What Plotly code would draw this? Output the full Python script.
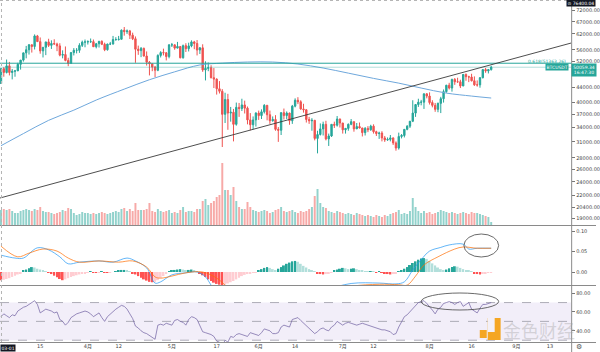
import pandas as pd
import plotly.graph_objects as go

# ---------------- data (prices in thousands USDT) ----------------
dates = pd.date_range("2021-03-01", "2021-08-23", freq="D")

opens = [45.1, 49.6, 48.4, 50.5, 48.4, 48.8, 48.9, 51.0, 52.4, 54.9,
         56.0, 57.8, 57.2, 61.2, 59.0, 55.6, 56.9, 58.9, 57.6, 58.3,
         58.1, 57.4, 54.1, 54.3, 52.3, 51.3, 55.0, 55.8, 55.8, 57.6,
         58.8, 58.9, 59.0, 59.0, 57.1, 58.2, 59.1, 58.0, 56.0, 58.1,
         58.1, 59.8, 59.8, 59.9, 63.5, 62.9, 63.2, 61.5, 60.1, 56.2,
         55.7, 56.5, 53.8, 51.7, 51.2, 50.1, 49.1, 54.0, 55.0, 54.9,
         53.6, 57.8, 57.8, 56.6, 57.2, 53.2, 57.5, 56.4, 57.4, 58.9,
         58.3, 55.9, 56.7, 49.2, 49.7, 49.9, 46.8, 46.4, 43.6, 42.9,
         37.0, 40.7, 37.3, 37.5, 34.7, 38.7, 38.4, 39.3, 38.5, 35.7,
         34.6, 35.7, 37.3, 36.7, 37.6, 39.2, 36.9, 35.5, 35.8, 33.6,
         33.4, 37.4, 36.7, 37.3, 35.5, 39.0, 40.5, 40.1, 38.3, 38.1,
         35.8, 35.5, 35.6, 31.7, 32.5, 33.7, 34.7, 31.6, 32.2, 34.7,
         34.5, 35.9, 35.0, 33.5, 33.8, 34.7, 35.3, 33.7, 34.2, 33.9,
         32.9, 33.8, 33.5, 34.3, 33.1, 32.7, 32.8, 31.8, 31.4, 31.5,
         31.8, 30.8, 29.8, 32.1, 32.3, 33.6, 34.3, 35.4, 37.3, 39.4,
         40.0, 40.0, 42.2, 41.6, 39.9, 39.2, 38.2, 39.7, 40.9, 42.8,
         44.6, 43.8, 46.3, 45.6, 45.6, 44.4, 47.8, 47.1, 47.0, 45.9,
         44.7, 44.7, 46.8, 49.3, 48.9, 49.3]
highs = [49.8, 50.1, 52.6, 51.8, 49.5, 49.2, 51.5, 52.4, 54.9, 57.4,
         58.1, 58.0, 61.8, 61.6, 60.6, 56.9, 58.9, 60.1, 59.5, 59.9,
         58.6, 58.4, 55.8, 57.2, 53.2, 55.1, 56.6, 56.6, 58.4, 59.4,
         59.8, 59.5, 60.2, 59.8, 58.5, 59.3, 59.5, 58.6, 58.2, 58.9,
         61.2, 60.7, 61.2, 63.8, 64.8, 63.8, 63.6, 62.5, 61.0, 57.5,
         57.0, 56.8, 55.4, 52.1, 51.2, 50.5, 54.4, 55.5, 56.4, 55.2,
         58.0, 58.5, 57.9, 58.9, 57.2, 57.9, 58.4, 58.6, 59.5, 59.3,
         59.6, 57.0, 58.0, 52.0, 51.6, 50.7, 49.8, 46.6, 45.8, 43.5,
         42.5, 42.2, 38.8, 38.3, 39.9, 39.8, 40.9, 40.4, 38.9, 37.3,
         36.5, 37.5, 37.9, 38.2, 39.5, 39.3, 37.9, 36.5, 36.8, 34.1,
         37.5, 38.4, 37.7, 37.4, 39.3, 41.0, 41.3, 40.5, 39.6, 38.2,
         36.4, 36.1, 35.7, 33.3, 34.9, 35.3, 35.5, 32.7, 34.7, 35.3,
         36.6, 36.0, 35.0, 33.9, 34.9, 35.9, 35.3, 35.0, 35.1, 33.9,
         34.1, 34.3, 34.6, 34.7, 33.3, 33.1, 33.2, 32.2, 31.9, 32.4,
         31.9, 31.1, 32.9, 32.6, 33.6, 34.5, 35.4, 40.5, 39.5, 40.9,
         40.6, 42.3, 42.4, 42.6, 40.5, 39.8, 39.9, 41.4, 43.4, 44.7,
         45.3, 46.5, 46.7, 46.8, 46.2, 47.9, 48.1, 47.4, 48.0, 47.2,
         46.0, 47.0, 49.4, 49.8, 49.5, 50.5]
lows = [45.0, 47.1, 48.1, 47.5, 46.3, 47.1, 48.9, 49.3, 51.9, 53.0,
        54.3, 55.0, 56.1, 59.0, 54.6, 53.3, 54.1, 57.0, 56.3, 57.9,
        55.5, 53.7, 53.0, 52.0, 50.4, 51.3, 54.0, 54.7, 54.9, 57.0,
        56.9, 57.9, 58.5, 57.0, 56.5, 56.8, 57.7, 55.5, 55.7, 57.7,
        57.9, 59.3, 59.4, 59.9, 61.3, 62.0, 60.0, 59.6, 51.5, 54.2,
        53.4, 53.6, 50.6, 47.5, 48.8, 47.0, 48.8, 53.3, 54.0, 52.3,
        53.0, 57.0, 56.0, 56.5, 53.0, 52.9, 55.2, 55.4, 56.9, 56.2,
        54.0, 54.5, 48.6, 46.0, 48.8, 46.6, 43.8, 42.0, 42.3, 30.0,
        35.0, 33.5, 35.3, 31.1, 34.4, 36.4, 37.8, 37.2, 34.7, 33.4,
        33.6, 34.2, 35.7, 35.9, 37.2, 35.6, 34.8, 35.3, 33.3, 31.0,
        32.4, 35.8, 35.9, 34.6, 34.8, 38.7, 39.5, 38.1, 37.4, 35.1,
        34.8, 33.3, 31.3, 28.8, 32.3, 32.3, 31.3, 30.2, 32.0, 33.9,
        34.2, 34.0, 32.7, 32.7, 33.3, 34.5, 33.1, 33.7, 33.8, 32.1,
        32.3, 33.0, 33.3, 32.7, 32.2, 31.6, 31.1, 31.0, 31.2, 31.1,
        30.4, 29.3, 29.5, 31.7, 31.9, 33.4, 33.9, 35.2, 36.4, 38.8,
        39.2, 38.3, 41.0, 39.4, 38.7, 37.6, 37.5, 37.3, 39.9, 42.5,
        43.4, 42.8, 44.7, 45.3, 43.8, 44.3, 45.9, 45.5, 45.7, 44.4,
        44.2, 43.9, 46.6, 48.3, 48.1, 49.0]
closes = [49.6, 48.4, 50.5, 48.4, 48.8, 48.9, 51.0, 52.4, 54.9, 56.0,
          57.8, 57.2, 61.2, 59.0, 55.6, 56.9, 58.9, 57.6, 58.3, 58.1,
          57.4, 54.1, 54.3, 52.3, 51.3, 55.0, 55.8, 55.8, 57.6, 58.8,
          58.9, 59.0, 59.0, 57.1, 58.2, 59.1, 58.0, 56.0, 58.1, 58.1,
          59.8, 59.8, 59.9, 63.5, 62.9, 63.2, 61.5, 60.1, 56.2, 55.7,
          56.5, 53.8, 51.7, 51.2, 50.1, 49.1, 54.0, 55.0, 54.9, 53.6,
          57.8, 57.8, 56.6, 57.2, 53.2, 57.5, 56.4, 57.4, 58.9, 58.3,
          55.9, 56.7, 49.2, 49.7, 49.9, 46.8, 46.4, 43.6, 42.9, 37.0,
          40.7, 37.3, 37.5, 34.7, 38.7, 38.4, 39.3, 38.5, 35.7, 34.6,
          35.7, 37.3, 36.7, 37.6, 39.2, 36.9, 35.5, 35.8, 33.6, 33.4,
          37.4, 36.7, 37.3, 35.5, 39.0, 40.5, 40.1, 38.3, 38.1, 35.8,
          35.5, 35.6, 31.7, 32.5, 33.7, 34.7, 31.6, 32.2, 34.7, 34.5,
          35.9, 35.0, 33.5, 33.8, 34.7, 35.3, 33.7, 34.2, 33.9, 32.9,
          33.8, 33.5, 34.3, 33.1, 32.7, 32.8, 31.8, 31.4, 31.5, 31.8,
          30.8, 29.8, 32.1, 32.3, 33.6, 34.3, 35.4, 37.3, 39.4, 40.0,
          40.0, 42.2, 41.6, 39.9, 39.2, 38.2, 39.7, 40.9, 42.8, 44.6,
          43.8, 46.3, 45.6, 45.6, 44.4, 47.8, 47.1, 47.0, 45.9, 44.7,
          44.7, 46.8, 49.3, 48.9, 49.3, 50.05934]
volumes = [75, 80, 75, 80, 70, 60, 60, 70, 75, 80, 75,
           70, 80, 75, 90, 70, 65, 65, 60, 55, 60,
           65, 75, 70, 85, 80, 60, 50, 55, 65, 60,
           60, 55, 60, 55, 60, 65, 60, 55, 60, 65,
           70, 65, 80, 85, 70, 80, 70, 110, 75, 75,
           75, 80, 110, 70, 65, 80, 70, 65, 70, 75,
           60, 65, 60, 75, 90, 65, 70, 70, 65, 80,
           80, 120, 130, 100, 110, 120, 140, 150, 310, 175,
           175, 150, 190, 120, 90, 80, 80, 115, 90, 75,
           70, 65, 70, 75, 70, 60, 65, 75, 80, 90,
           70, 65, 70, 75, 65, 60, 70, 65, 70, 80,
           90, 145, 180, 110, 90, 85, 70, 65, 60, 70,
           65, 60, 55, 60, 55, 50, 60, 55, 50, 45,
           50, 45, 40, 50, 45, 40, 50, 45, 55, 60,
           65, 75, 55, 60, 55, 70, 135, 90, 70, 60,
           70, 60, 65, 55, 60, 65, 75, 70, 65, 60,
           65, 60, 55, 60, 65, 60, 55, 65, 60, 60,
           55, 50, 45, 40, 15]

ma_dates = ["2021-03-01", "2021-03-09", "2021-03-18", "2021-03-27", "2021-04-04",
            "2021-04-14", "2021-04-23", "2021-05-02", "2021-05-11", "2021-05-19",
            "2021-05-28", "2021-06-06", "2021-06-15", "2021-06-24", "2021-07-03",
            "2021-07-12", "2021-07-21", "2021-07-29", "2021-08-07", "2021-08-16",
            "2021-08-23"]
ma_values = [30.25, 32.7, 35.6, 38.0, 40.55, 43.5, 46.2, 48.6, 50.8, 51.4,
             51.76, 51.76, 51.1, 49.8, 48.2, 46.6, 45.2, 43.8, 42.4, 41.6, 41.08]

fib_level = [51.36326]
last_price = [50.05934]
trend_dates = ["2021-02-28 15:29", "2021-09-20 13:12"]
trend_prices = [21.624, 58.476]

macd_hist = [-0.020, -0.019, -0.017, -0.015, -0.012, -0.009, -0.006, -0.003,
             0.003, 0.006, 0.009, 0.012, 0.011, 0.008,
             0.006, 0.004, 0.002,
             -0.002, -0.005, -0.009,
             -0.013, -0.017, -0.020, -0.018, -0.015,
             -0.012, -0.010, -0.008, -0.006, -0.004, -0.003, -0.002,
             0.001, -0.001, -0.002, -0.001, 0.001, -0.001, -0.002,
             -0.001, 0.000, 0.002, 0.003,
             0.005, 0.005, 0.003, 0.001,
             -0.003, -0.006, -0.010, -0.014, -0.018, -0.021, -0.024, -0.025, -0.024,
             -0.020, -0.015, -0.010, -0.005,
             0.002, 0.004, 0.005, 0.006, 0.007, 0.006, 0.004, 0.005, 0.006, 0.004, 0.002,
             -0.004, -0.008, -0.012, -0.018, -0.022, -0.026, -0.029, -0.031, -0.033,
             -0.031, -0.028, -0.025, -0.022, -0.018, -0.014, -0.010,
             -0.007, -0.005, -0.003, -0.002, -0.001,
             0.003, 0.007, 0.010, 0.012, 0.010, 0.007, 0.005,
             0.008, 0.012, 0.016, 0.020, 0.023, 0.026, 0.027, 0.025,
             0.020, 0.015, 0.011, 0.007, 0.004, 0.001,
             -0.003, -0.005, -0.006, -0.005, -0.003, -0.001,
             0.003, 0.006, 0.008, 0.010, 0.009, 0.007, 0.008, 0.009, 0.007, 0.005, 0.003,
             0.002, 0.001, 0.002, 0.001, -0.001, 0.001, -0.001,
             -0.003, -0.005, -0.006, -0.005, -0.004,
             0.001, 0.004, 0.008, 0.012, 0.017, 0.022, 0.026, 0.030, 0.033, 0.034, 0.032, 0.027,
             0.021, 0.016, 0.011, 0.007, 0.005, 0.006,
             0.009, 0.012, 0.014, 0.013, 0.010,
             0.007, 0.005, 0.003, 0.001,
             -0.003, -0.005, -0.006, -0.004,
             -0.003, -0.002, -0.001]

macd_dates = ["2021-03-01", "2021-03-06", "2021-03-09", "2021-03-14", "2021-03-18",
              "2021-03-22", "2021-03-25", "2021-03-29", "2021-04-05", "2021-04-10",
              "2021-04-15", "2021-04-18", "2021-04-22", "2021-04-25", "2021-04-27",
              "2021-05-01", "2021-05-06", "2021-05-10", "2021-05-13", "2021-05-15",
              "2021-05-18", "2021-05-25", "2021-06-09", "2021-06-24", "2021-07-04",
              "2021-07-14", "2021-07-20", "2021-07-23", "2021-07-26", "2021-07-29",
              "2021-08-01", "2021-08-05", "2021-08-08", "2021-08-13", "2021-08-15",
              "2021-08-18", "2021-08-23"]
macd_line = [0.041, 0.034, 0.034, 0.059, 0.054, 0.037, 0.020, 0.024, 0.027, 0.024,
             0.034, 0.027, 0.010, -0.027, -0.024, -0.007, -0.002, 0.000, -0.012, -0.032,
             -0.060, -0.090, -0.070, -0.045, -0.028, -0.027, -0.029, -0.024, 0.005, 0.030,
             0.051, 0.060, 0.066, 0.068, 0.056, 0.058, 0.058]
signal_dates = ["2021-03-01", "2021-03-07", "2021-03-11", "2021-03-16", "2021-03-21",
                "2021-03-25", "2021-03-29", "2021-04-05", "2021-04-12", "2021-04-17",
                "2021-04-22", "2021-04-25", "2021-04-27", "2021-05-01", "2021-05-06",
                "2021-05-12", "2021-05-17", "2021-05-20", "2021-05-24", "2021-06-04",
                "2021-06-19", "2021-07-04", "2021-07-14", "2021-07-21", "2021-07-24",
                "2021-07-27", "2021-07-30", "2021-08-04", "2021-08-10", "2021-08-13",
                "2021-08-18", "2021-08-23"]
signal_line = [0.063, 0.037, 0.046, 0.056, 0.051, 0.034, 0.024, 0.027, 0.024, 0.027,
               0.012, -0.012, -0.015, -0.010, -0.002, 0.000, -0.015, -0.032, -0.060, -0.080,
               -0.060, -0.035, -0.030, -0.031, -0.032, -0.010, 0.017, 0.037, 0.056, 0.061,
               0.058, 0.058]

rsi = [55, 58, 56, 54, 57, 56, 61, 63, 65, 66, 68, 70, 72, 68, 59, 61, 63, 62, 61, 59,
       60, 52, 50, 46, 49, 54, 56, 58, 59, 60, 61, 60, 58, 55, 57, 59, 54, 50, 55, 58,
       60, 63, 65, 67, 66, 63, 58, 53, 45, 43, 40, 38, 37, 35, 33, 31, 46, 47, 46, 48,
       47, 46, 51, 52, 50, 49, 46, 52, 55, 54, 52, 45, 39, 38, 37, 36, 34, 29, 28, 24,
       30, 28, 34, 33, 36, 37, 36, 35, 34, 38, 37, 36, 35, 38, 42, 41, 40, 37, 37, 38,
       44, 46, 45, 44, 52, 53, 54, 51, 48, 45, 43, 40, 37, 39, 42, 43, 41, 40, 44, 46,
       50, 48, 46, 48, 49, 48, 47, 46, 47, 48, 47, 46, 45, 44, 43, 42, 41, 41, 40, 39,
       36, 37, 44, 50, 55, 57, 60, 63, 66, 70, 71, 72, 69, 66, 62, 58, 63, 65, 69, 70,
       71, 70, 68, 70, 71, 66, 68, 70, 63, 61, 59, 64, 68, 68, 69, 70]

price_tickvals = [72, 67, 62, 56, 52, 44, 40, 37, 34, 31, 28, 26, 24, 22, 20.4, 19]
price_ticktext = ["72000.00", "67000.00", "62000.00", "56000.00", "52000.00", "44000.00",
                  "40000.00", "37000.00", "34000.00", "31000.00", "28000.00", "26000.00",
                  "24000.00", "22000.00", "20400.00", "19000.00"]
macd_tickvals = [0.0, 0.05, 0.10]
macd_ticktext = ["0.00", "0.05", "0.10"]
rsi_tickvals = [40, 60, 80]
rsi_ticktext = ["40.00", "60.00", "80.00"]
rsi_levels = [30, 50, 70]
x_tickvals = ["2021-03-15", "2021-04-01", "2021-04-12", "2021-05-01", "2021-05-17",
              "2021-06-01", "2021-06-14", "2021-07-01", "2021-07-12", "2021-08-01",
              "2021-08-16", "2021-09-01", "2021-09-13"]
x_ticktext = ["15", "4月", "12", "5月", "17", "6月", "14", "7月", "12", "8月", "16", "9月", "13"]
x_range = ["2021-02-28 15:29", "2021-09-20 13:12"]

# ---------------- styling ----------------
UP, DN = "#26a69a", "#ef5350"
FONT = "DejaVu Sans, Noto Sans CJK SC"
W, H = 600, 352
PX = lambda x: x / W
PY = lambda y: 1 - y / H

vol_colors = ["rgba(38,166,154,0.5)" if c >= o else "rgba(239,83,80,0.5)"
              for o, c in zip(opens, closes)]
hist_colors = []
for i, v in enumerate(macd_hist):
    prev = macd_hist[i - 1] if i > 0 else v
    if v >= 0:
        hist_colors.append("#26a69a" if v >= prev else "#b2dfdb")
    else:
        hist_colors.append("#ff5252" if v <= prev else "#ffcdd2")

fig = go.Figure()
fig.add_trace(go.Bar(x=dates, y=volumes, marker_color=vol_colors, marker_line_width=0,
                     xaxis="x", yaxis="y2"))
fig.add_trace(go.Scatter(x=ma_dates, y=ma_values, mode="lines", line_shape="spline",
                         line=dict(color="#6fa8dc", width=1), xaxis="x", yaxis="y"))
fig.add_trace(go.Scatter(x=x_range, y=fib_level * 2, mode="lines",
                         line=dict(color="#26a69a", width=1), xaxis="x", yaxis="y"))
fig.add_trace(go.Scatter(x=x_range, y=last_price * 2, mode="lines",
                         line=dict(color="rgba(38,166,154,0.35)", width=1), xaxis="x", yaxis="y"))
fig.add_trace(go.Candlestick(x=dates, open=opens, high=highs, low=lows, close=closes,
                             increasing=dict(line=dict(color=UP, width=1), fillcolor=UP),
                             decreasing=dict(line=dict(color=DN, width=1), fillcolor=DN),
                             xaxis="x", yaxis="y"))
fig.add_trace(go.Scatter(x=trend_dates, y=trend_prices, mode="lines",
                         line=dict(color="#3a3a3a", width=0.9), xaxis="x", yaxis="y"))
# MACD
fig.add_trace(go.Bar(x=dates, y=macd_hist, marker_color=hist_colors, marker_line_width=0,
                     xaxis="x", yaxis="y3"))
fig.add_trace(go.Scatter(x=macd_dates, y=macd_line, mode="lines", line_shape="spline",
                         line=dict(color="#2196f3", width=0.7), xaxis="x", yaxis="y3"))
fig.add_trace(go.Scatter(x=signal_dates, y=signal_line, mode="lines", line_shape="spline",
                         line=dict(color="#ff6d00", width=0.7), xaxis="x", yaxis="y3"))
# RSI
fig.add_trace(go.Scatter(x=dates, y=rsi, mode="lines",
                         line=dict(color="#6f5fa0", width=0.7), xaxis="x", yaxis="y4"))

tickfont = dict(family=FONT, size=5, color="#444")
yax_common = dict(side="right", anchor="x", showgrid=False, zeroline=False, showline=False,
                  ticks="outside", ticklen=3, tickwidth=1, tickcolor="#777", tickfont=tickfont,
                  fixedrange=True)

shapes = []
# RSI band and levels
shapes.append(dict(type="rect", xref="x domain", yref="y4", x0=0, x1=1,
                   y0=rsi_levels[0], y1=rsi_levels[2], fillcolor="rgba(126,87,194,0.10)",
                   line_width=0, layer="below"))
for lv in rsi_levels:
    shapes.append(dict(type="line", xref="x domain", yref="y4", x0=0, x1=1, y0=lv, y1=lv,
                       line=dict(color="#9a9aa6", width=0.8, dash="dash"), layer="below"))
# frame lines
for yy in (225.5, 285.5, 342.5):
    shapes.append(dict(type="line", xref="paper", yref="paper", x0=0, x1=1,
                       y0=PY(yy), y1=PY(yy), line=dict(color="#8a8a8a", width=1)))
shapes.append(dict(type="line", xref="paper", yref="paper", x0=PX(575.5), x1=PX(575.5),
                   y0=0, y1=1, line=dict(color="#8a8a8a", width=1)))
shapes.append(dict(type="line", xref="paper", yref="paper", x0=PX(1.5), x1=PX(1.5),
                   y0=PY(342), y1=1, line=dict(color="#b5b5b5", width=1, dash="dot")))
shapes.append(dict(type="line", xref="paper", yref="paper", x0=0, x1=PX(575),
                   y0=PY(0.5), y1=PY(0.5), line=dict(color="#b5b5b5", width=1, dash="dot")))
# ellipses
shapes.append(dict(type="circle", xref="paper", yref="paper", x0=PX(467), x1=PX(502),
                   y0=PY(257), y1=PY(234), line=dict(color="#444", width=0.8)))
shapes.append(dict(type="circle", xref="paper", yref="paper", x0=PX(424), x1=PX(502),
                   y0=PY(310), y1=PY(293), line=dict(color="#444", width=0.8)))
# watermark icon
shapes.append(dict(type="rect", xref="paper", yref="paper", x0=PX(483), x1=PX(490),
                   y0=PY(338), y1=PY(330), fillcolor="#f5a623", line_width=0))
shapes.append(dict(type="rect", xref="paper", yref="paper", x0=PX(491), x1=PX(504),
                   y0=PY(340), y1=PY(318), fillcolor="#f5a623", line_width=0))
shapes.append(dict(type="rect", xref="paper", yref="paper", x0=PX(491), x1=PX(498),
                   y0=PY(332), y1=PY(318), fillcolor="#f3f0f8", line_width=0))

annotations = [
    dict(xref="paper", yref="paper", x=PX(572), y=PY(61), text="0.618(51363.26)",
         showarrow=False, xanchor="right", yanchor="middle",
         font=dict(family=FONT, size=4.5, color="#26a69a")),
    dict(xref="paper", yref="paper", x=PX(573), y=PY(66.5), text="BTCUSDT",
         showarrow=False, xanchor="right", yanchor="middle", bgcolor="#26a69a",
         borderpad=0.5, font=dict(family=FONT, size=4.5, color="white")),
    dict(xref="paper", yref="paper", x=PX(575), y=PY(69.5), text="50059.34<br>16:47:30",
         showarrow=False, xanchor="left", yanchor="middle", bgcolor="#26a69a",
         borderpad=0.5, width=23, font=dict(family=FONT, size=4.5, color="white")),
    dict(xref="paper", yref="paper", x=PX(600), y=PY(3), text="⊙ 76400.04",
         showarrow=False, xanchor="right", yanchor="middle", bgcolor="#131722",
         borderpad=0.5, font=dict(family=FONT, size=4.5, color="white")),
    dict(xref="paper", yref="paper", x=0, y=PY(347.5), text="03-01",
         showarrow=False, xanchor="left", yanchor="middle", bgcolor="#131722",
         borderpad=0.5, font=dict(family=FONT, size=4.5, color="white")),
    dict(xref="paper", yref="paper", x=PX(583), y=PY(347), text="⚙",
         showarrow=False, xanchor="center", yanchor="middle",
         font=dict(family=FONT, size=7, color="#555")),
    dict(xref="paper", yref="paper", x=PX(543), y=PY(330), text="金色财经",
         showarrow=False, xanchor="center", yanchor="middle",
         font=dict(family="Noto Sans CJK SC", size=18, color="rgba(160,160,160,0.38)")),
]

fig.update_layout(
    width=W, height=H, margin=dict(l=0, r=0, t=0, b=0),
    paper_bgcolor="white", plot_bgcolor="white", showlegend=False,
    bargap=0.3, hovermode=False,
    xaxis=dict(domain=[0, PX(575)], type="date", range=x_range, anchor="y4",
               rangeslider=dict(visible=False), showgrid=False, zeroline=False,
               showline=False, tickvals=x_tickvals, ticktext=x_ticktext,
               ticks="", tickfont=tickfont, fixedrange=True),
    yaxis=dict(domain=[PY(225), 1], type="log", range=[1.2597, 1.8869],
               tickvals=price_tickvals, ticktext=price_ticktext, **yax_common),
    yaxis2=dict(overlaying="y", range=[0, 1125], visible=False, fixedrange=True),
    yaxis3=dict(domain=[PY(285), PY(226)], range=[-0.0317, 0.1122],
                tickvals=macd_tickvals, ticktext=macd_ticktext, **yax_common),
    yaxis4=dict(domain=[PY(342), PY(286)], range=[28.1, 87.6],
                tickvals=rsi_tickvals, ticktext=rsi_ticktext, **yax_common),
    shapes=shapes, annotations=annotations,
)

fig.write_html("out.html")
